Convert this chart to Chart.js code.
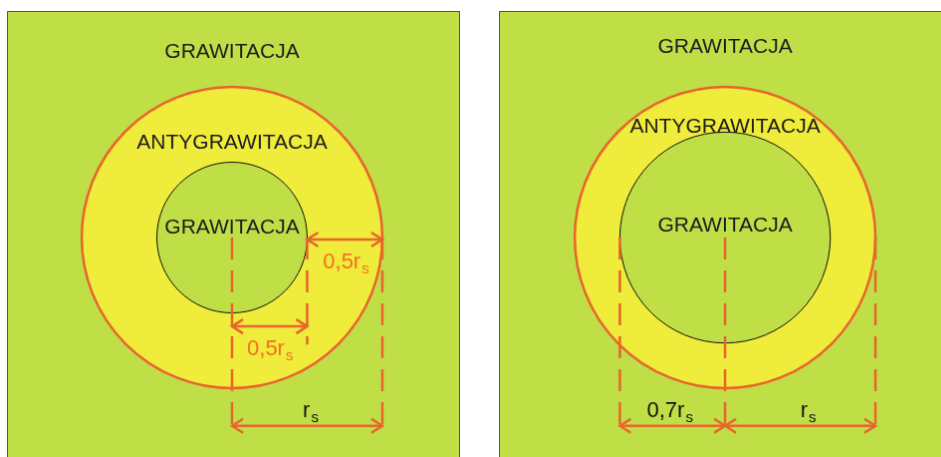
<!DOCTYPE html>
<html>
<head>
<meta charset="utf-8">
<script src="https://cdn.jsdelivr.net/npm/chart.js@4"></script>
<style>
  html, body { margin: 0; padding: 0; background: #ffffff; overflow: hidden; }
  body { width: 941px; height: 457px; position: relative; }
  canvas { position: absolute; border: 1px solid #55554a; border-bottom: none; background: #c0df47; }
  #left { left: 7px; top: 11px; }
  #right { left: 499px; top: 11px; }
</style>
</head>
<body>
<canvas id="left" width="453" height="446"></canvas>
<canvas id="right" width="450" height="446"></canvas>
<script>
// all distances in units of r_s, centre of the circles = (0, 0)
const outerRadius = [1, 1];
const innerRadius = [0.5, 0.7];

// dashed guide lines (x position, bottom end)
const guideX = [[0, 0.5, 1], [-0.7, 0, 1]];
const guideBottom = [[-1.285, -0.71, -1.285], [-1.285, -1.285, -1.285]];

// dimension arrows
const arrowFrom = [[0.5, 0, 0], [-0.7, 0]];
const arrowTo = [[1, 0.5, 1], [0, 1]];
const arrowY = [[-0.013, -0.59, -1.25], [-1.25, -1.25]];

// dimension labels ("|" marks the subscript)
const dimLabels = [["0,5r|s", "0,5r|s", "r|s"], ["0,7r|s", "r|s"]];
const dimLabelX = [[0.755, 0.25, 0.52], [-0.37, 0.55]];
const dimLabelY = [[-0.15, -0.73, -1.14], [-1.14, -1.14]];
const dimLabelOrange = [[true, true, false], [false, false]];

// region names
const regionLabels = ["GRAWITACJA", "ANTYGRAWITACJA", "GRAWITACJA"];
const regionLabelY = [[1.23, 0.63, 0.066], [1.265, 0.735, 0.08]];

// axis ranges of each panel
const xRange = [[-1.49, 1.51], [-1.497, 1.483]];
const yRange = [[-1.457, 1.497], [-1.457, 1.497]];

const GREEN = "#c0df47";
const YELLOW = "#efec3b";
const ORANGE = "#e8652d";
const ORANGE_TEXT = "#f37021";
const FONT = "'Liberation Sans', Arial, sans-serif";

function makeChart(canvasId, p) {
    const datasets = [];
    guideX[p].forEach(function (gx, i) {
        datasets.push({
            data: [{ x: gx, y: 0 }, { x: gx, y: guideBottom[p][i] }],
            showLine: true, borderColor: ORANGE, borderWidth: 2.5,
            borderDash: [22, 11], pointRadius: 0
        });
    });
    arrowFrom[p].forEach(function (a, i) {
        datasets.push({
            data: [{ x: a, y: arrowY[p][i] }, { x: arrowTo[p][i], y: arrowY[p][i] }],
            showLine: true, borderColor: ORANGE, borderWidth: 2.5, pointRadius: 0
        });
    });

    const diagram = {
        id: "diagram",
        beforeDatasetsDraw(chart) {
            const ctx = chart.ctx;
            const xs = chart.scales.x, ys = chart.scales.y;
            const cx = xs.getPixelForValue(0), cy = ys.getPixelForValue(0);
            const rOut = xs.getPixelForValue(outerRadius[p]) - cx;
            const rIn = xs.getPixelForValue(innerRadius[p]) - cx;
            ctx.save();
            ctx.beginPath();
            ctx.arc(cx, cy, rOut, 0, Math.PI * 2);
            ctx.fillStyle = YELLOW;
            ctx.fill();
            ctx.lineWidth = 2.5;
            ctx.strokeStyle = ORANGE;
            ctx.stroke();
            ctx.beginPath();
            ctx.arc(cx, cy, rIn, 0, Math.PI * 2);
            ctx.fillStyle = GREEN;
            ctx.fill();
            ctx.lineWidth = 1;
            ctx.strokeStyle = "#111111";
            ctx.stroke();
            ctx.restore();
        },
        afterDatasetsDraw(chart) {
            const ctx = chart.ctx;
            const xs = chart.scales.x, ys = chart.scales.y;
            ctx.save();
            // arrow heads
            ctx.strokeStyle = ORANGE;
            ctx.lineWidth = 2.5;
            arrowFrom[p].forEach(function (a, i) {
                const y = ys.getPixelForValue(arrowY[p][i]);
                const x1 = xs.getPixelForValue(a), x2 = xs.getPixelForValue(arrowTo[p][i]);
                [[x1, 1], [x2, -1]].forEach(function (h) {
                    ctx.beginPath();
                    ctx.moveTo(h[0] + h[1] * 11, y - 7);
                    ctx.lineTo(h[0], y);
                    ctx.lineTo(h[0] + h[1] * 11, y + 7);
                    ctx.stroke();
                });
            });
            // region names
            ctx.fillStyle = "#1c1c1c";
            ctx.font = "21px " + FONT;
            ctx.textAlign = "center";
            ctx.textBaseline = "middle";
            regionLabels.forEach(function (t, i) {
                ctx.fillText(t, xs.getPixelForValue(0), ys.getPixelForValue(regionLabelY[p][i]));
            });
            // dimension labels with subscript
            ctx.textAlign = "left";
            ctx.textBaseline = "alphabetic";
            dimLabels[p].forEach(function (t, i) {
                const parts = t.split("|");
                ctx.font = "22px " + FONT;
                const w1 = ctx.measureText(parts[0]).width;
                ctx.font = "15px " + FONT;
                const w2 = ctx.measureText(parts[1]).width;
                const x0 = xs.getPixelForValue(dimLabelX[p][i]) - (w1 + w2) / 2;
                const base = ys.getPixelForValue(dimLabelY[p][i]) + 8;
                ctx.fillStyle = dimLabelOrange[p][i] ? ORANGE_TEXT : "#111111";
                ctx.font = "22px " + FONT;
                ctx.fillText(parts[0], x0, base);
                ctx.font = "15px " + FONT;
                ctx.fillText(parts[1], x0 + w1 + 1, base + 5);
            });
            ctx.restore();
        }
    };

    return new Chart(document.getElementById(canvasId).getContext("2d"), {
        type: "scatter",
        data: { datasets: datasets },
        options: {
            responsive: false,
            animation: false,
            layout: { padding: 0 },
            scales: {
                x: { type: "linear", display: false, min: xRange[p][0], max: xRange[p][1] },
                y: { type: "linear", display: false, min: yRange[p][0], max: yRange[p][1] }
            },
            plugins: { legend: { display: false }, tooltip: { enabled: false } }
        },
        plugins: [diagram]
    });
}

makeChart("left", 0);
makeChart("right", 1);
</script>
</body>
</html>
